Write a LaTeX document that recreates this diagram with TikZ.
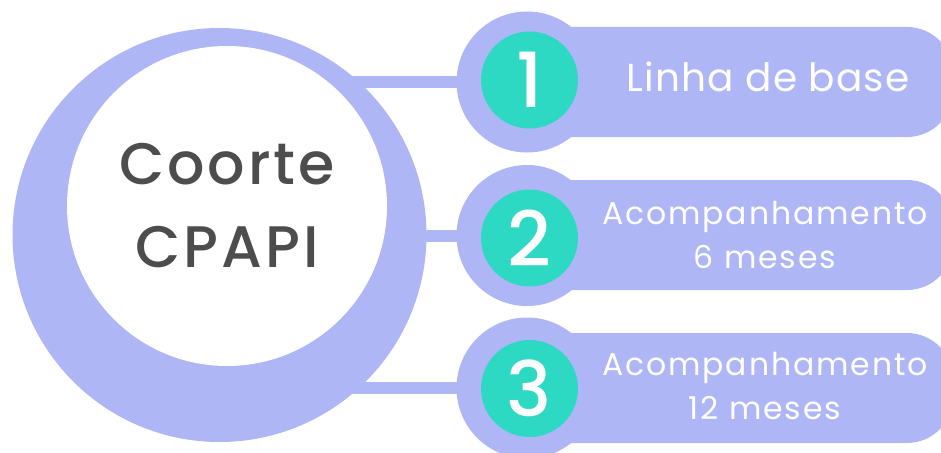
\documentclass[tikz,border=0pt]{standalone}
\usepackage{fontspec}
\usepackage{tikz}
\newfontfamily\popfont{Poppins}[LetterSpace=6]
\newfontfamily\poptight{Poppins}[LetterSpace=3]
\newfontfamily\popmed{Poppins Medium}[LetterSpace=5]
\definecolor{lavender}{HTML}{AEB6F5}
\definecolor{mint}{HTML}{2ED9C4}
\definecolor{inkgray}{HTML}{4D4D4D}

\begin{document}
\begin{tikzpicture}[x=1pt,y=-1pt,
  ring/.style={circle,fill=lavender,minimum size=141pt,inner sep=0pt},
  badge/.style={circle,fill=mint,minimum size=97pt,inner sep=0pt,text=white,font=\popmed\fontsize{76}{76}\selectfont},
  stagebox/.style={rectangle,rounded corners=46pt,fill=lavender,minimum width=453pt,minimum height=110pt,inner sep=0pt},
  stagetext/.style={text=white,align=center,font=\popfont\fontsize{31.5}{44}\selectfont},
  link/.style={lavender,line width=12pt}]
\useasboundingbox (0,0) rectangle (941,452);
% outer cohort circle
\node[circle,fill=lavender,minimum size=414pt,inner sep=0pt] (cohort) at (219.5,235) {};
% rings behind the numbers
\node[ring] (ring1) at (527,82) {};
\node[ring] (ring2) at (527,235.5) {};
\node[ring] (ring3) at (527,388) {};
% links to the cohort
\foreach \i in {1,2,3}
  \draw[link] (ring\i.center) -- (cohort.center |- ring\i.center);
% stage boxes
\node[stagebox] (box1) at (726.5,82) {};
\node[stagebox] (box2) at (726.5,235) {};
\node[stagebox] (box3) at (726.5,388) {};
% inner white circle
\node[circle,fill=white,minimum size=320pt,inner sep=0pt,text=inkgray,align=center,
  font=\popmed\fontsize{58.6}{83}\selectfont] (core) at (227,206) {Coorte\\CPAPI};
% numbers
\node[badge] (num1) at (529.5,80) {1};
\node[badge] (num2) at (529.5,238) {2};
\node[badge] (num3) at (529.5,388.5) {3};
% stage labels
\node[stagetext,font=\poptight\fontsize{39}{44}\selectfont] (lab1) at (768,77) {Linha de base};
\node[stagetext] (lab2) at (765,235) {Acompanhamento\\6 meses};
\node[stagetext] (lab3) at (765,386) {Acompanhamento\\12 meses};
\end{tikzpicture}
\end{document}
